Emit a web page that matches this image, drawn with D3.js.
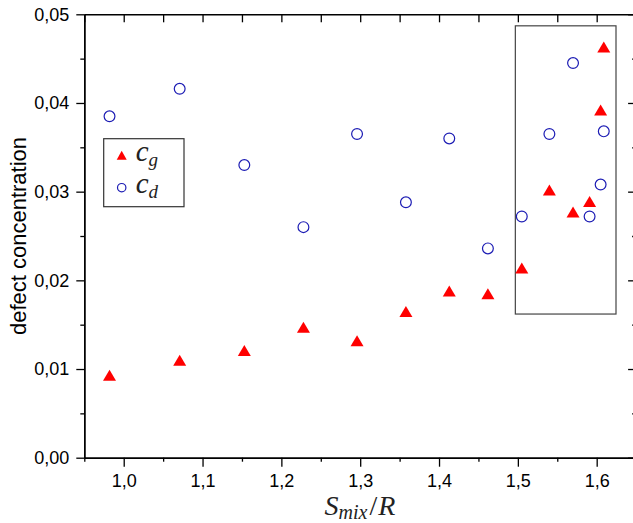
<!DOCTYPE html>
<html>
<head>
<meta charset="utf-8">
<script src="https://cdn.jsdelivr.net/npm/d3@7"></script>
<style>
    body { margin: 0; background: #fff; }
    svg { display: block; }
    .tick text { font-family: "Liberation Sans", Arial, sans-serif; font-size: 18px; fill: #000; }
    .math { font-family: "Liberation Serif", "DejaVu Serif", serif; font-style: italic; fill: #222; }
</style>
</head>
<body>
<svg id="chart" width="633" height="523"></svg>
<script>
'use strict';

// S_mix / R values (shared by both series)
const smix = [0.982, 1.071, 1.153, 1.228, 1.296, 1.358, 1.413, 1.462, 1.505, 1.540, 1.570, 1.591, 1.605, 1.609];
// c_g (red triangles)
const cg = [0.0093, 0.0110, 0.0121, 0.0147, 0.0132, 0.0165, 0.0188, 0.0185, 0.0214, 0.0302, 0.0277, 0.0289, 0.0392, 0.0463];
// c_d (blue circles)
const cd = [0.0385, 0.0416, 0.0330, 0.0260, 0.0365, 0.0288, 0.0360, 0.0236, 0.0272, 0.0365, 0.0445, 0.0272, 0.0308, 0.0368];

const xTicks = [1.0, 1.1, 1.2, 1.3, 1.4, 1.5, 1.6];
const xMinor = [0.95, 1.05, 1.15, 1.25, 1.35, 1.45, 1.55, 1.65];
const yTicks = [0, 0.01, 0.02, 0.03, 0.04, 0.05];
const yMinor = [0.005, 0.015, 0.025, 0.035, 0.045];

// highlighted region [x0, x1, y0, y1] in data units
const highlight = [1.4968, 1.6245, 0.0162, 0.0487];

const svg = d3.select('#chart');

const x = d3.scaleLinear().domain([0.95, 1.65]).range([84.3, 636.1]);
const y = d3.scaleLinear().domain([0, 0.05]).range([457.7, 14.3]);

const loc = d3.formatLocale({ decimal: ',', thousands: '.', grouping: [3], currency: ['', ''] });
const fx = loc.format('.1f');
const fy = loc.format('.2f');

function styleAxis(g)
{
    g.select('.domain').attr('stroke', '#000').attr('stroke-width', 1.4);
    g.selectAll('.tick line').attr('stroke', '#000').attr('stroke-width', 1.3);
}

// bottom
svg.append('g').attr('transform', `translate(0,${y(0)})`)
    .call(d3.axisBottom(x).tickValues(xMinor).tickSize(4).tickSizeOuter(0).tickFormat(''))
    .call(styleAxis);
svg.append('g').attr('transform', `translate(0,${y(0)})`)
    .call(d3.axisBottom(x).tickValues(xTicks).tickSize(9).tickSizeOuter(0).tickPadding(8).tickFormat(fx))
    .call(styleAxis);

// top (inward ticks)
svg.append('g').attr('transform', `translate(0,${y(0.05)})`)
    .call(d3.axisTop(x).tickValues(xTicks.concat(xMinor)).tickSize(-8).tickSizeOuter(0).tickFormat(''))
    .call(styleAxis);

// left
svg.append('g').attr('transform', `translate(${x(0.95)},0)`)
    .call(d3.axisLeft(y).tickValues(yMinor).tickSize(4).tickSizeOuter(0).tickFormat(''))
    .call(styleAxis);
svg.append('g').attr('transform', `translate(${x(0.95)},0)`)
    .call(d3.axisLeft(y).tickValues(yTicks).tickSize(8).tickSizeOuter(0).tickPadding(7).tickFormat(fy))
    .call(styleAxis);

// right (inward ticks)
svg.append('g').attr('transform', `translate(${x(1.65)},0)`)
    .call(d3.axisRight(y).tickValues(yMinor).tickSize(-4).tickSizeOuter(0).tickFormat(''))
    .call(styleAxis);
svg.append('g').attr('transform', `translate(${x(1.65)},0)`)
    .call(d3.axisRight(y).tickValues(yTicks).tickSize(-8).tickSizeOuter(0).tickFormat(''))
    .call(styleAxis);

// highlight box
svg.append('rect')
    .attr('x', x(highlight[0]))
    .attr('y', y(highlight[3]))
    .attr('width', x(highlight[1]) - x(highlight[0]))
    .attr('height', y(highlight[2]) - y(highlight[3]))
    .attr('fill', 'none')
    .attr('stroke', '#444')
    .attr('stroke-width', 1.2);

// triangle centred on its bounding box
function tri(w, h)
{
    return `M0,${-h / 2}L${w / 2},${h / 2}L${-w / 2},${h / 2}Z`;
}

const pts = smix.map((s, i) => ({ s: s, g: cg[i], d: cd[i] }));

svg.append('g').selectAll('circle').data(pts).enter().append('circle')
    .attr('cx', (d) => x(d.s))
    .attr('cy', (d) => y(d.d))
    .attr('r', 5.4)
    .attr('fill', 'none')
    .attr('stroke', '#1c1cb4')
    .attr('stroke-width', 1.2);

svg.append('g').selectAll('path').data(pts).enter().append('path')
    .attr('transform', (d) => `translate(${x(d.s)},${y(d.g)})`)
    .attr('d', tri(13, 11))
    .attr('fill', '#ff0000');

// legend
const lg = svg.append('g').attr('transform', 'translate(103.7,138.7)');
lg.append('rect').attr('width', 80.3).attr('height', 68)
    .attr('fill', '#fff').attr('stroke', '#333').attr('stroke-width', 1.2);
lg.append('path').attr('transform', 'translate(18,16.5)').attr('d', tri(10, 9)).attr('fill', '#ff0000');
lg.append('circle').attr('cx', 18).attr('cy', 49).attr('r', 4.2)
    .attr('fill', 'none').attr('stroke', '#1c1cb4').attr('stroke-width', 1.2);

const lt1 = lg.append('text').attr('class', 'math').attr('x', 32).attr('y', 22).attr('font-size', 29);
lt1.append('tspan').text('c');
lt1.append('tspan').attr('font-size', 19).attr('dy', 5).text('g');
const lt2 = lg.append('text').attr('class', 'math').attr('x', 32).attr('y', 54).attr('font-size', 29);
lt2.append('tspan').text('c');
lt2.append('tspan').attr('font-size', 19).attr('dy', 5).text('d');

// axis titles
const xt = svg.append('text').attr('class', 'math')
    .attr('x', 360).attr('y', 515).attr('text-anchor', 'middle').attr('font-size', 28);
xt.append('tspan').text('S');
xt.append('tspan').attr('font-size', 20).attr('dy', 4).text('mix');
xt.append('tspan').attr('dy', -4).attr('dx', 2).attr('font-style', 'normal').text('/');
xt.append('tspan').attr('dx', 1).text('R');

svg.append('text')
    .attr('transform', `translate(26,${(y(0) + y(0.05)) / 2}) rotate(-90)`)
    .attr('text-anchor', 'middle')
    .attr('font-family', '"Liberation Sans", Arial, sans-serif')
    .attr('font-size', 22)
    .text('defect concentration');
</script>
</body>
</html>
